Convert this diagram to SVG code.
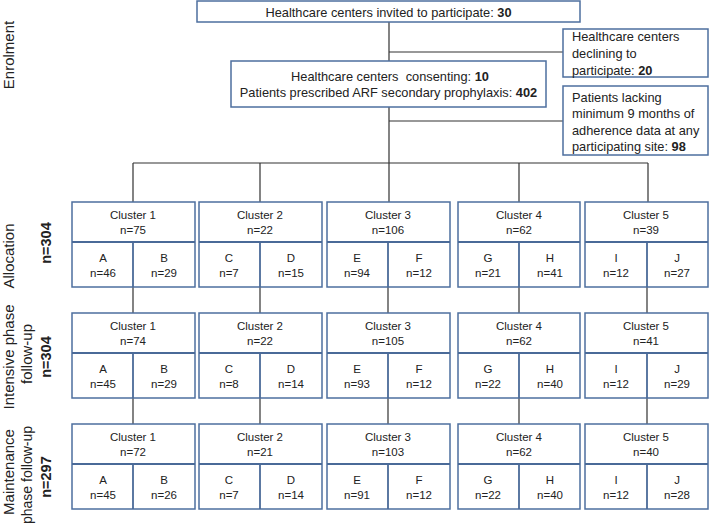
<svg xmlns="http://www.w3.org/2000/svg" width="709" height="528" viewBox="0 0 709 528">
<style>
.box{fill:#fff;stroke:#4d6f9f;stroke-width:1.5}
.div{stroke:#4a6a98;stroke-width:1.8}
.con{stroke:#333;stroke-width:1.2;fill:none}
text{font-family:"Liberation Sans",Arial,sans-serif;fill:#222}
.t{font-size:12.8px}
.c{font-size:11.5px;text-anchor:middle}
.side{font-size:15px;text-anchor:middle}
.side2{font-size:14px;text-anchor:middle}
.sb{font-size:14.5px;font-weight:bold;text-anchor:middle}
.b{font-weight:bold}
</style>
<rect width="709" height="528" fill="#fff"/>
<g id="connectors">
<path class="con" d="M389 22V62M389 52H563M389 107V163M389 121H563M133 163H648M133 163V202M260 163V202M389 163V202M519 163V202M648 163V202"/>
<path class="con" d="M133 287V313M260 287V313M388 287V313M519 287V313M647 287V313"/>
<path class="con" d="M133 398V424M260 398V424M388 398V424M519 398V424M647 398V424"/>
</g>
<g id="labels">
<text class="side" transform="translate(14,55) rotate(-90)">Enrolment</text>
<text class="side" transform="translate(14,256) rotate(-90)">Allocation</text>
<text class="sb" transform="translate(51,243) rotate(-90)">n=304</text>
<text class="side" transform="translate(14,357) rotate(-90)">Intensive phase</text>
<text class="side" transform="translate(32,354) rotate(-90)">follow-up</text>
<text class="sb" transform="translate(51,357) rotate(-90)">n=304</text>
<text class="side" transform="translate(14,472) rotate(-90)">Maintenance</text>
<text class="side2" transform="translate(32,475) rotate(-90)">phase follow-up</text>
<text class="sb" transform="translate(51,477) rotate(-90)">n=297</text>
</g>
<g id="invited">
<rect class="box" x="197" y="1" width="383" height="21"/>
<text class="t" x="388.5" y="16.5" text-anchor="middle">Healthcare centers invited to participate: <tspan class="b">30</tspan></text>
</g>
<g id="declining">
<rect class="box" x="563" y="29" width="145" height="48"/>
<text class="t" x="572" y="40.5">Healthcare centers</text>
<text class="t" x="572" y="57.5">declining to</text>
<text class="t" x="572" y="74.5">participate: <tspan class="b">20</tspan></text>
</g>
<g id="consenting">
<rect class="box" x="231" y="61" width="315" height="46"/>
<text class="t" x="390" y="80.5" text-anchor="middle" xml:space="preserve">Healthcare centers  consenting: <tspan class="b">10</tspan></text>
<text class="t" x="388.5" y="96.5" text-anchor="middle">Patients prescribed ARF secondary prophylaxis: <tspan class="b">402</tspan></text>
</g>
<g id="lacking">
<rect class="box" x="563" y="86" width="145" height="69"/>
<text class="t" x="572" y="101.5">Patients lacking</text>
<text class="t" x="572" y="117.5">minimum 9 months of</text>
<text class="t" x="572" y="134.5">adherence data at any</text>
<text class="t" x="572" y="150.5">participating site: <tspan class="b">98</tspan></text>
</g>
<!-- Row 1 -->
<g id="r1c1"><rect class="box" x="72" y="202" width="123" height="85"/><line class="div" x1="72" y1="242" x2="195" y2="242"/><line class="div" x1="133" y1="242" x2="133" y2="287"/>
<text class="c" x="133" y="219">Cluster 1</text><text class="c" x="133" y="234">n=75</text>
<text class="c" x="103" y="262">A</text><text class="c" x="103" y="277">n=46</text><text class="c" x="164" y="262">B</text><text class="c" x="164" y="277">n=29</text></g>
<g id="r1c2"><rect class="box" x="199" y="202" width="123" height="85"/><line class="div" x1="199" y1="242" x2="322" y2="242"/><line class="div" x1="260" y1="242" x2="260" y2="287"/>
<text class="c" x="260" y="219">Cluster 2</text><text class="c" x="260" y="234">n=22</text>
<text class="c" x="229" y="262">C</text><text class="c" x="229" y="277">n=7</text><text class="c" x="291" y="262">D</text><text class="c" x="291" y="277">n=15</text></g>
<g id="r1c3"><rect class="box" x="327" y="202" width="123" height="85"/><line class="div" x1="327" y1="242" x2="450" y2="242"/><line class="div" x1="388" y1="242" x2="388" y2="287"/>
<text class="c" x="388" y="219">Cluster 3</text><text class="c" x="388" y="234">n=106</text>
<text class="c" x="357" y="262">E</text><text class="c" x="357" y="277">n=94</text><text class="c" x="419" y="262">F</text><text class="c" x="419" y="277">n=12</text></g>
<g id="r1c4"><rect class="box" x="458" y="202" width="122" height="85"/><line class="div" x1="458" y1="242" x2="580" y2="242"/><line class="div" x1="519" y1="242" x2="519" y2="287"/>
<text class="c" x="519" y="219">Cluster 4</text><text class="c" x="519" y="234">n=62</text>
<text class="c" x="488" y="262">G</text><text class="c" x="488" y="277">n=21</text><text class="c" x="550" y="262">H</text><text class="c" x="550" y="277">n=41</text></g>
<g id="r1c5"><rect class="box" x="585" y="202" width="123" height="85"/><line class="div" x1="585" y1="242" x2="708" y2="242"/><line class="div" x1="647" y1="242" x2="647" y2="287"/>
<text class="c" x="646" y="219">Cluster 5</text><text class="c" x="646" y="234">n=39</text>
<text class="c" x="616" y="262">I</text><text class="c" x="616" y="277">n=12</text><text class="c" x="677" y="262">J</text><text class="c" x="677" y="277">n=27</text></g>
<!-- Row 2 -->
<g id="r2c1"><rect class="box" x="72" y="313" width="123" height="85"/><line class="div" x1="72" y1="353" x2="195" y2="353"/><line class="div" x1="133" y1="353" x2="133" y2="398"/>
<text class="c" x="133" y="330">Cluster 1</text><text class="c" x="133" y="345">n=74</text>
<text class="c" x="103" y="373">A</text><text class="c" x="103" y="388">n=45</text><text class="c" x="164" y="373">B</text><text class="c" x="164" y="388">n=29</text></g>
<g id="r2c2"><rect class="box" x="199" y="313" width="123" height="85"/><line class="div" x1="199" y1="353" x2="322" y2="353"/><line class="div" x1="260" y1="353" x2="260" y2="398"/>
<text class="c" x="260" y="330">Cluster 2</text><text class="c" x="260" y="345">n=22</text>
<text class="c" x="229" y="373">C</text><text class="c" x="229" y="388">n=8</text><text class="c" x="291" y="373">D</text><text class="c" x="291" y="388">n=14</text></g>
<g id="r2c3"><rect class="box" x="327" y="313" width="123" height="85"/><line class="div" x1="327" y1="353" x2="450" y2="353"/><line class="div" x1="388" y1="353" x2="388" y2="398"/>
<text class="c" x="388" y="330">Cluster 3</text><text class="c" x="388" y="345">n=105</text>
<text class="c" x="357" y="373">E</text><text class="c" x="357" y="388">n=93</text><text class="c" x="419" y="373">F</text><text class="c" x="419" y="388">n=12</text></g>
<g id="r2c4"><rect class="box" x="458" y="313" width="122" height="85"/><line class="div" x1="458" y1="353" x2="580" y2="353"/><line class="div" x1="519" y1="353" x2="519" y2="398"/>
<text class="c" x="519" y="330">Cluster 4</text><text class="c" x="519" y="345">n=62</text>
<text class="c" x="488" y="373">G</text><text class="c" x="488" y="388">n=22</text><text class="c" x="550" y="373">H</text><text class="c" x="550" y="388">n=40</text></g>
<g id="r2c5"><rect class="box" x="585" y="313" width="123" height="85"/><line class="div" x1="585" y1="353" x2="708" y2="353"/><line class="div" x1="647" y1="353" x2="647" y2="398"/>
<text class="c" x="646" y="330">Cluster 5</text><text class="c" x="646" y="345">n=41</text>
<text class="c" x="616" y="373">I</text><text class="c" x="616" y="388">n=12</text><text class="c" x="677" y="373">J</text><text class="c" x="677" y="388">n=29</text></g>
<!-- Row 3 -->
<g id="r3c1"><rect class="box" x="72" y="424" width="123" height="85"/><line class="div" x1="72" y1="464" x2="195" y2="464"/><line class="div" x1="133" y1="464" x2="133" y2="509"/>
<text class="c" x="133" y="441">Cluster 1</text><text class="c" x="133" y="456">n=72</text>
<text class="c" x="103" y="484">A</text><text class="c" x="103" y="499">n=45</text><text class="c" x="164" y="484">B</text><text class="c" x="164" y="499">n=26</text></g>
<g id="r3c2"><rect class="box" x="199" y="424" width="123" height="85"/><line class="div" x1="199" y1="464" x2="322" y2="464"/><line class="div" x1="260" y1="464" x2="260" y2="509"/>
<text class="c" x="260" y="441">Cluster 2</text><text class="c" x="260" y="456">n=21</text>
<text class="c" x="229" y="484">C</text><text class="c" x="229" y="499">n=7</text><text class="c" x="291" y="484">D</text><text class="c" x="291" y="499">n=14</text></g>
<g id="r3c3"><rect class="box" x="327" y="424" width="123" height="85"/><line class="div" x1="327" y1="464" x2="450" y2="464"/><line class="div" x1="388" y1="464" x2="388" y2="509"/>
<text class="c" x="388" y="441">Cluster 3</text><text class="c" x="388" y="456">n=103</text>
<text class="c" x="357" y="484">E</text><text class="c" x="357" y="499">n=91</text><text class="c" x="419" y="484">F</text><text class="c" x="419" y="499">n=12</text></g>
<g id="r3c4"><rect class="box" x="458" y="424" width="122" height="85"/><line class="div" x1="458" y1="464" x2="580" y2="464"/><line class="div" x1="519" y1="464" x2="519" y2="509"/>
<text class="c" x="519" y="441">Cluster 4</text><text class="c" x="519" y="456">n=62</text>
<text class="c" x="488" y="484">G</text><text class="c" x="488" y="499">n=22</text><text class="c" x="550" y="484">H</text><text class="c" x="550" y="499">n=40</text></g>
<g id="r3c5"><rect class="box" x="585" y="424" width="123" height="85"/><line class="div" x1="585" y1="464" x2="708" y2="464"/><line class="div" x1="647" y1="464" x2="647" y2="509"/>
<text class="c" x="646" y="441">Cluster 5</text><text class="c" x="646" y="456">n=40</text>
<text class="c" x="616" y="484">I</text><text class="c" x="616" y="499">n=12</text><text class="c" x="677" y="484">J</text><text class="c" x="677" y="499">n=28</text></g>
</svg>
